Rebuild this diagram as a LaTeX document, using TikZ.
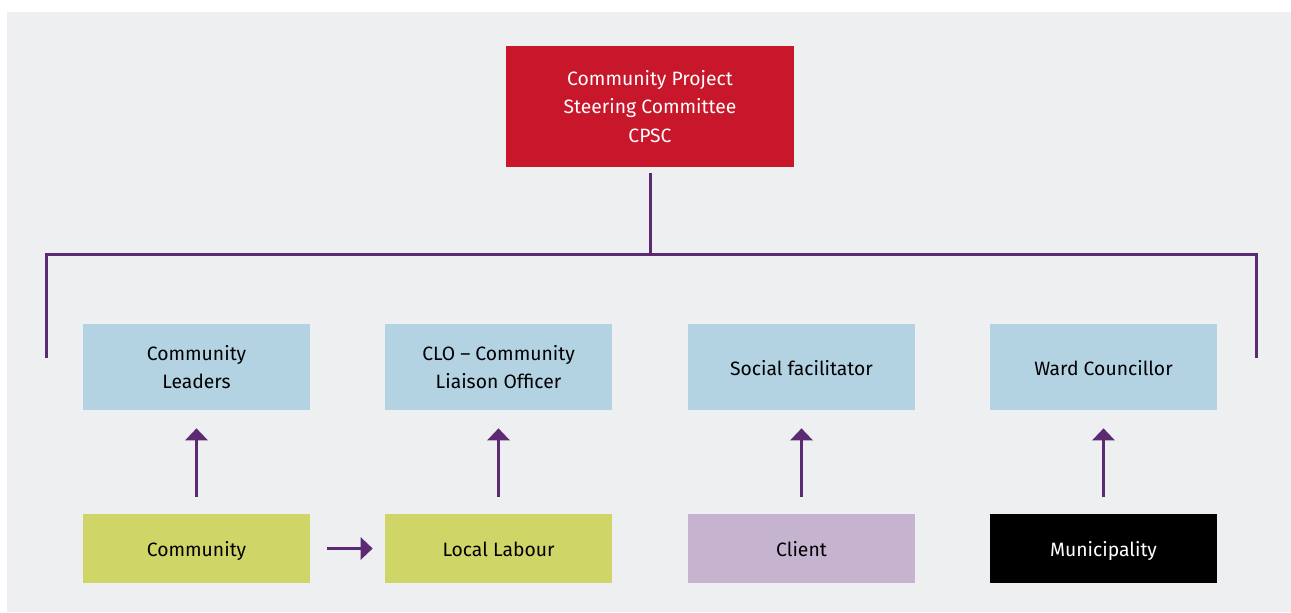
\documentclass[tikz,border=0pt]{standalone}
\usepackage{fontspec}
\setmainfont{Fira Sans}
\usetikzlibrary{arrows.meta}
\definecolor{bggray}{HTML}{EEEFF1}
\definecolor{cpscred}{HTML}{C8172A}
\definecolor{roleblue}{HTML}{B3D3E3}
\definecolor{limegreen}{HTML}{D0D567}
\definecolor{lilac}{HTML}{C6B3CF}
\definecolor{linepurple}{HTML}{5B2A72}
\tikzset{
	box/.style={draw=none,minimum width=4.54cm,align=center,inner sep=0pt,
		font=\fontsize{11}{16}\selectfont},
	oneline/.style={text height=2.1ex,text depth=0.3ex},
	rolebox/.style={box,fill=roleblue,minimum height=1.72cm},
	basebox/.style={box,oneline,minimum height=1.38cm},
	link/.style={draw=linepurple,line width=0.06cm},
	uparrow/.style={link,-{Triangle[length=0.24cm,width=0.44cm]}}
}
\begin{document}
\begin{tikzpicture}[x=0.02cm,y=-0.02cm]
	%frame
	\useasboundingbox (0,0) rectangle (1291,612);
	\fill[bggray] (7,12) rectangle (1291,612);
	
	%top box
	\node[box,fill=cpscred,text=white,minimum width=5.76cm,minimum height=2.42cm] (cpsc) at (650,106.5)
		{Community Project\\Steering Committee\\CPSC};
	
	%roles
	\node[rolebox] (leaders) at (196.5,367) {Community\\Leaders};
	\node[rolebox] (clo)     at (498.5,367) {CLO -- Community\\Liaison Officer};
	\node[rolebox,oneline] (social) at (801.5,367) {Social facilitator};
	\node[rolebox,oneline] (ward)   at (1103.5,367) {Ward Councillor};
	
	%bottom row
	\node[basebox,fill=limegreen] (community) at (196.5,548.5) {Community};
	\node[basebox,fill=limegreen] (labour)    at (498.5,548.5) {Local Labour};
	\node[basebox,fill=lilac]     (client)    at (801.5,548.5) {Client};
	\node[basebox,fill=black,text=white] (municipality) at (1103.5,548.5) {Municipality};
	
	%bracket
	\coordinate (barmid) at (650,254);
	\coordinate (barL) at (46,254);
	\coordinate (barR) at (1256,254);
	\coordinate (legL) at (46,358);
	\coordinate (legR) at (1256,358);
	\draw[link] (cpsc.south) ++(0,6) -- (barmid);
	\draw[link] (legL) -- (barL) -- (barR) -- (legR);
	
	%arrows
	\draw[uparrow,shorten <=0.34cm,shorten >=0.36cm] (community) -- (leaders);
	\draw[uparrow,shorten <=0.34cm,shorten >=0.36cm] (labour) -- (clo);
	\draw[uparrow,shorten <=0.34cm,shorten >=0.36cm] (client) -- (social);
	\draw[uparrow,shorten <=0.34cm,shorten >=0.36cm] (municipality) -- (ward);
	\draw[uparrow,shorten <=0.34cm,shorten >=0.24cm] (community) -- (labour);
\end{tikzpicture}
\end{document}
